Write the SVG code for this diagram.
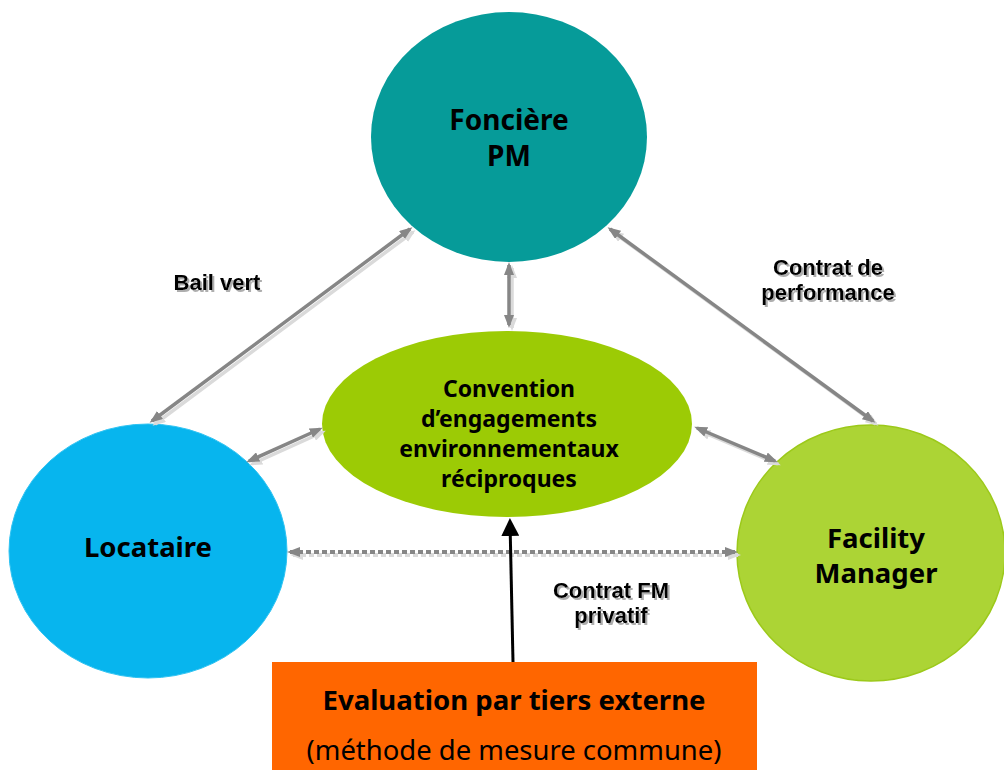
<svg xmlns="http://www.w3.org/2000/svg" width="1004" height="770" viewBox="0 0 1004 770">
  <style>
    .node-label { font-family: "Noto Sans", "Liberation Sans", sans-serif; font-weight: bold; fill: #000; text-anchor: middle; }
    .link-label { font-family: "Liberation Sans", Arial, sans-serif; font-weight: bold; font-size: 22px; text-anchor: middle; fill: #000; filter: url(#text-shade); }
    .conn { fill: none; stroke: #868686; stroke-width: 3.5; marker-start: url(#tip); marker-end: url(#tip); }
    .conn-shadow { fill: none; stroke: #dadada; stroke-width: 3.5; marker-start: url(#tip-shadow); marker-end: url(#tip-shadow); }
    .dotted { stroke-dasharray: 5 3; stroke-width: 4; }
  </style>
  <defs>
    <filter id="text-shade" x="-10%" y="-30%" width="130%" height="170%">
      <feDropShadow dx="2" dy="2" stdDeviation="0.6" flood-color="#9a9a9a" flood-opacity="0.8"/>
    </filter>
    <marker id="tip" viewBox="0 0 13 10" refX="10" refY="5" markerWidth="13" markerHeight="10" markerUnits="userSpaceOnUse" orient="auto-start-reverse">
      <path d="M0,0 L13,5 L0,10 z" fill="#868686"/>
    </marker>
    <marker id="tip-shadow" viewBox="0 0 13 10" refX="10" refY="5" markerWidth="13" markerHeight="10" markerUnits="userSpaceOnUse" orient="auto-start-reverse">
      <path d="M0,0 L13,5 L0,10 z" fill="#dadada"/>
    </marker>
    <marker id="tip-black" viewBox="0 0 18 18" refX="14" refY="9" markerWidth="18" markerHeight="18" markerUnits="userSpaceOnUse" orient="auto">
      <path d="M0,0 L18,9 L0,18 z" fill="#000"/>
    </marker>
  </defs>

  <rect width="1004" height="770" fill="#ffffff"/>

  <!-- nodes -->
  <g id="node-fonciere">
    <ellipse cx="509" cy="137" rx="138" ry="125" fill="#069b99"/>
    <text class="node-label" font-size="28" x="509" y="130">Foncière</text>
    <text class="node-label" font-size="28" x="509" y="166">PM</text>
  </g>

  <g id="node-locataire">
    <ellipse cx="148" cy="551" rx="139" ry="127" fill="#07b5ee" stroke="#2fc3f2" stroke-width="1"/>
    <text class="node-label" font-size="27.5" x="148" y="557">Locataire</text>
  </g>

  <g id="node-facility">
    <ellipse cx="871" cy="553" rx="134" ry="128" fill="#acd435" stroke="#9cc91a" stroke-width="1.5"/>
    <text class="node-label" font-size="27.5" x="876" y="548">Facility</text>
    <text class="node-label" font-size="27.5" x="876" y="583">Manager</text>
  </g>

  <g id="node-convention">
    <ellipse cx="507" cy="424" rx="185" ry="93" fill="#9ccb05"/>
    <text class="node-label" font-size="23" x="509" y="397">Convention</text>
    <text class="node-label" font-size="23" x="509" y="427">d’engagements</text>
    <text class="node-label" font-size="23" x="509" y="457">environnementaux</text>
    <text class="node-label" font-size="23" x="509" y="487">réciproques</text>
  </g>

  <g id="node-evaluation">
    <rect x="272" y="662" width="485" height="108" fill="#ff6600"/>
    <text class="node-label" font-size="27" x="514" y="710" textLength="383" lengthAdjust="spacingAndGlyphs">Evaluation par tiers externe</text>
    <text font-family="Noto Sans, Liberation Sans, sans-serif" font-size="27" fill="#000" text-anchor="middle" x="514" y="760" textLength="415" lengthAdjust="spacingAndGlyphs">(méthode de mesure commune)</text>
  </g>

  <!-- connectors -->
  <g id="connectors">
    <g transform="translate(3,3)">
      <path class="conn-shadow" d="M410,229 L152,421"/>
      <path class="conn-shadow" d="M610,229 L873,421"/>
      <path class="conn-shadow" d="M509,265 L509,325"/>
      <path class="conn-shadow" d="M249,461 L320,429"/>
      <path class="conn-shadow" d="M697,428 L775,461"/>
      <path class="conn-shadow dotted" d="M290,552 L735,552"/>
    </g>
    <path class="conn" d="M410,229 L152,421"/>
    <path class="conn" d="M610,229 L873,421"/>
    <path class="conn" d="M509,265 L509,325"/>
    <path class="conn" d="M249,461 L320,429"/>
    <path class="conn" d="M697,428 L775,461"/>
    <path class="conn dotted" d="M290,552 L735,552"/>
    <path d="M513,662 L510,522" fill="none" stroke="#000" stroke-width="3" marker-end="url(#tip-black)"/>
  </g>

  <!-- connector labels -->
  <g id="connector-labels">
    <text class="link-label" x="217" y="290">Bail vert</text>
    <text class="link-label" x="828" y="275">Contrat de<tspan x="828" dy="25">performance</tspan></text>
    <text class="link-label" x="611" y="598">Contrat FM<tspan x="611" dy="25">privatif</tspan></text>
  </g>
</svg>
